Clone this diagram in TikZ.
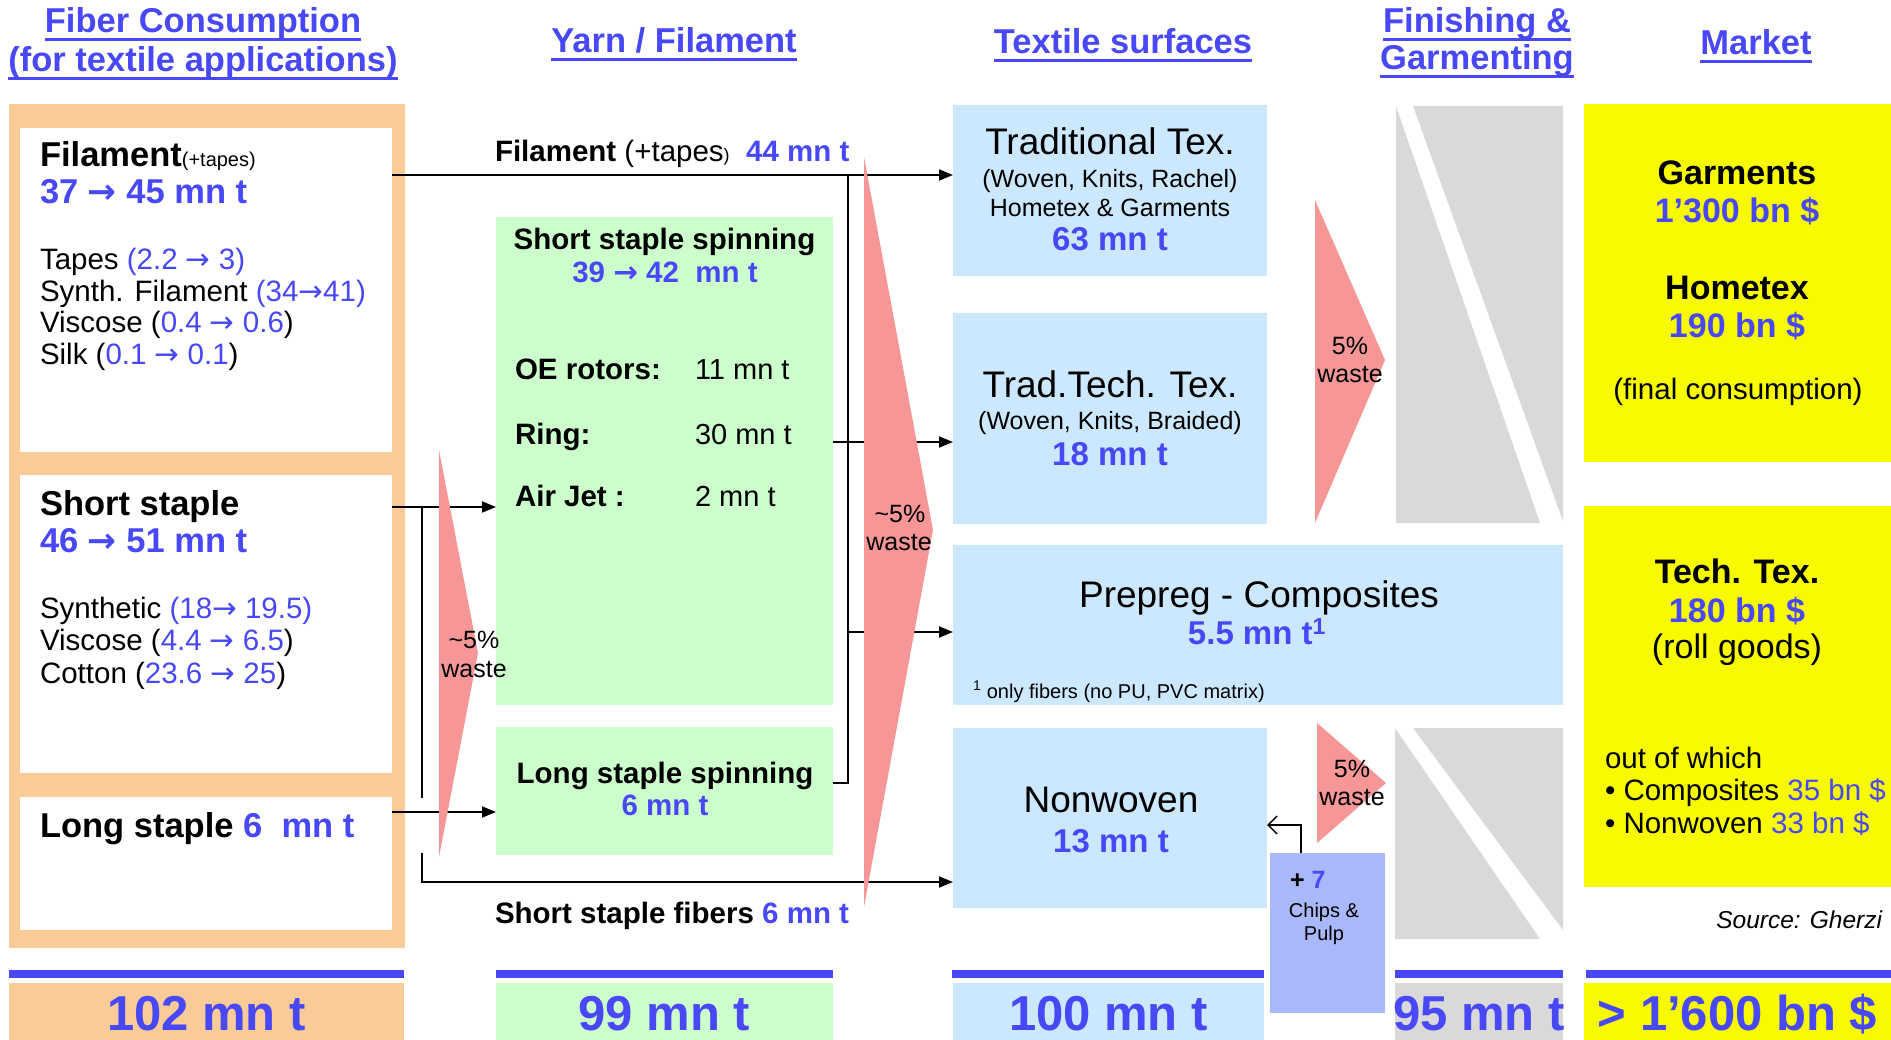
\documentclass[tikz,border=0pt]{standalone}
\usepackage{fontspec}
\setmainfont{Liberation Sans}
\newfontfamily\arrf{DejaVu Sans}
\usetikzlibrary{fit,arrows.meta}
\definecolor{tblue}{RGB}{72,72,248}
\definecolor{orng}{RGB}{248,203,153}
\definecolor{lgreen}{RGB}{204,255,204}
\definecolor{lblue}{RGB}{204,232,255}
\definecolor{pinkw}{RGB}{247,150,150}
\definecolor{greyf}{RGB}{217,217,217}
\definecolor{yel}{RGB}{248,250,0}
\definecolor{chipc}{RGB}{168,184,250}
\newcommand\myfs[1]{\fontsize{#1}{#1}\selectfont}
\newcommand\blu[1]{\textcolor{tblue}{#1}}
\newcommand\rarr{{\arrf →}}
\begin{document}
\begin{tikzpicture}[x=1pt,y=-1pt,
  txt/.style={inner sep=0pt, outer sep=0pt},
  boxf/.style={inner sep=0pt, outer sep=0pt, draw=none},
  conn/.style={line width=1.8pt, draw=black},
  arr/.style={conn, -{Triangle[length=14pt,width=11pt]}},
  hdr/.style={txt, anchor=base, font=\bfseries\myfs{34.5}, text=tblue},
  bigb/.style={txt, anchor=base west, font=\bfseries\myfs{34.5}},
  lst/.style={txt, anchor=base west, font=\myfs{29.5}},
  midb/.style={txt, font=\bfseries\myfs{29.5}},
  midr/.style={txt, anchor=base west, font=\myfs{29}},
  surf/.style={txt, anchor=base, font=\myfs{37}},
  surfs/.style={txt, anchor=base, font=\myfs{25}},
  surfn/.style={txt, anchor=base, font=\bfseries\myfs{33}, text=tblue},
  wst/.style={txt, anchor=base, font=\myfs{25}},
  mkb/.style={txt, anchor=base, font=\bfseries\myfs{34}},
  mkr/.style={txt, anchor=base west, font=\myfs{29.5}},
  totf/.style={txt, anchor=base, font=\bfseries\myfs{49}, text=tblue},
  uline/.style={tblue, line width=2.8pt}
]
\useasboundingbox (0,0) rectangle (1891,1040);

% ---------- headers ----------
\node[hdr] (h1a) at (203,33) {Fiber Consumption~};
\node[hdr] (h1b) at (203,72) {(for textile applications)};
\node[hdr] (h2) at (674,53) {Yarn / Filament};
\node[hdr] (h3) at (1123,54) {Textile surfaces~};
\node[hdr] (h4a) at (1477,33) {Finishing \&};
\node[hdr] (h4b) at (1477,70) {Garmenting};
\node[hdr] (h5) at (1756,55) {Market};
\foreach \n in {h1a,h1b,h2,h3,h4a,h4b,h5}
  \draw[uline] ([yshift=-6.5pt]\n.base west) -- ([yshift=-6.5pt]\n.base east);

% ---------- column 1 ----------
\node[boxf, fill=orng, fit={(9,104)(405,948)}] (ocol) {};
\node[boxf, fill=white, fit={(20,128)(392,452)}] (wfil) {};
\node[boxf, fill=white, fit={(20,475)(392,773)}] (wshort) {};
\node[boxf, fill=white, fit={(20,797)(392,930)}] (wlong) {};

% ---------- column 2 ----------
\node[boxf, fill=lgreen, fit={(496,217)(833,705)}] (gshort) {};
\node[boxf, fill=lgreen, fit={(496,727)(833,855)}] (glong) {};

% ---------- column 3 ----------
\node[boxf, fill=lblue, fit={(953,105)(1267,276)}] (btrad) {};
\node[boxf, fill=lblue, fit={(953,313)(1267,524)}] (btech) {};
\node[boxf, fill=lblue, fit={(953,545)(1563,705)}] (bprep) {};
\node[boxf, fill=lblue, fit={(953,728)(1267,908)}] (bnon) {};
\node[boxf, fill=chipc, fit={(1270,853)(1385,1013)}] (chips) {};

% ---------- column 4 (grey) ----------
\fill[greyf] (1396,106) -- (1396,523) -- (1540,523) -- cycle;
\fill[greyf] (1413,106) -- (1563,106) -- (1563,521) -- cycle;
\fill[greyf] (1395,728) -- (1395,939) -- (1540,939) -- cycle;
\fill[greyf] (1413,728) -- (1563,728) -- (1563,930) -- cycle;

% ---------- column 5 ----------
\node[boxf, fill=yel, fit={(1584,104)(1891,462)}] (ytop) {};
\node[boxf, fill=yel, fit={(1584,506)(1891,887)}] (ybot) {};

% ---------- totals ----------
\fill[tblue] (9,970) rectangle (404,978);
\fill[tblue] (496,970) rectangle (833,978);
\fill[tblue] (952,970) rectangle (1264,978);
\fill[tblue] (1395,970) rectangle (1563,978);
\fill[tblue] (1586,970) rectangle (1891,978);
\node[boxf, fill=orng, fit={(9,983)(404,1040)}] (tot1) {};
\node[boxf, fill=lgreen, fit={(496,983)(833,1040)}] (tot2) {};
\node[boxf, fill=lblue, fit={(953,983)(1264,1040)}] (tot3) {};
\node[boxf, fill=greyf, fit={(1395,983)(1563,1040)}] (tot4) {};
\node[boxf, fill=yel, fit={(1584,983)(1891,1040)}] (tot5) {};
\node[totf] (tot1t) at (206.5,1030) {102 mn t};
\node[totf] (tot2t) at (664.5,1030) {99 mn t};
\node[totf] (tot3t) at (1108.5,1030) {100 mn t};
\node[totf] (tot4t) at (1479,1030) {95 mn t};
\node[totf] (tot5t) at (1737.5,1030) {> 1’600 bn \$};

% ---------- connectors ----------
\coordinate (fily) at (0,175);
\coordinate (colx) at (848,0);
\coordinate (ry) at (0,442);
\coordinate (py) at (0,632);
\coordinate (lsy) at (0,783);
\coordinate (ssy) at (0,507);
\coordinate (lly) at (0,812);
\coordinate (sfy) at (0,882);
\coordinate (vx) at (422,0);
\coordinate (vend) at (422,798);
\coordinate (vstart) at (422,853);
\coordinate (chx) at (1301,0);
\coordinate (chy) at (0,825);

\draw[arr] (wfil.east |- fily) -- (btrad.west |- fily);
\draw[conn] (glong.east |- lsy) -- (colx |- lsy) -- (colx |- fily);
\draw[arr] (gshort.east |- ry) -- (btech.west |- ry);
\draw[arr] (colx |- py) -- (bprep.west |- py);
\draw[arr] (wshort.east |- ssy) -- (gshort.west |- ssy);
\draw[conn] (vx |- ssy) -- (vend);
\draw[arr] (wlong.east |- lly) -- (glong.west |- lly);
\draw[arr] (vstart) -- (vx |- sfy) -- (bnon.west |- sfy);
\draw[conn, line width=1.5pt, -{Straight Barb[length=9pt,width=18pt]}] (chips.north -| chx) -- (chx |- chy) -- (bnon.east |- chy);

% ---------- waste triangles ----------
\fill[pinkw] (439,450) -- (439,857) -- (478,653) -- cycle;
\fill[pinkw] (864,157) -- (864,907) -- (933,530) -- cycle;
\fill[pinkw] (1315,200) -- (1315,523) -- (1385,360) -- cycle;
\fill[pinkw] (1317,723) -- (1317,843) -- (1386,783) -- cycle;
\node[wst] (w1a) at (474,648) {\textasciitilde 5\%};
\node[wst] (w1b) at (474,677) {waste};
\node[wst] (w2a) at (900,522) {\textasciitilde 5\%};
\node[wst] (w2b) at (899,550) {waste};
\node[wst] (w3a) at (1350,355) {5\%};
\node[wst] (w3b) at (1350,383) {waste};
\node[wst] (w4a) at (1352,777) {5\%};
\node[wst] (w4b) at (1352,805) {waste};

% ---------- column 1 texts ----------
\node[bigb] (t1a) at (40,167) {Filament{\mdseries\myfs{20}(+tapes)}};
\node[bigb, text=tblue] (t1b) at (40,204) {37 \rarr{} 45 mn t};
\node[lst] (t1c) at (40,270) {Tapes \blu{(2.2 \rarr{} 3)}};
\node[lst] (t1d) at (40,302) {Synth. Filament \blu{(34\rarr41)}};
\node[lst] (t1e) at (40,333) {Viscose (\blu{0.4 \rarr{} 0.6})};
\node[lst] (t1f) at (40,365) {Silk (\blu{0.1 \rarr{} 0.1})};
\node[bigb] (t1g) at (40,515) {Short staple};
\node[bigb, text=tblue] (t1h) at (40,552) {46 \rarr{} 51 mn t};
\node[lst] (t1i) at (40,618) {Synthetic \blu{(18\rarr{} 19.5)}};
\node[lst] (t1j) at (40,650) {Viscose (\blu{4.4 \rarr{} 6.5})};
\node[lst] (t1k) at (40,683) {Cotton (\blu{23.6 \rarr{} 25})};
\node[bigb] (t1l) at (40,837) {Long staple \blu{6~~mn t}};

% ---------- column 2 texts ----------
\node[midb, anchor=base west] (t2a) at (495,162) {Filament {\mdseries(+tapes{\myfs{18})}}~~\blu{44 mn t}};
\node[midb, anchor=base] (t2b) at (664.5,250) {Short staple spinning};
\node[midb, anchor=base, text=tblue] (t2c) at (665,283) {39 \rarr{} 42~~mn t};
\node[midb, anchor=base west] (t2d) at (515,380) {OE rotors:};
\node[midr] (t2e) at (695,380) {11 mn t};
\node[midb, anchor=base west] (t2f) at (515,445) {Ring:};
\node[midr] (t2g) at (695,445) {30 mn t};
\node[midb, anchor=base west] (t2h) at (515,507) {Air Jet :};
\node[midr] (t2i) at (695,507) {2 mn t};
\node[midb, anchor=base] (t2j) at (665,783) {Long staple spinning};
\node[midb, anchor=base, text=tblue] (t2k) at (665,815) {6 mn t};
\node[midb, anchor=base west] (t2l) at (495,923) {Short staple fibers \blu{6 mn t}};

% ---------- column 3 texts ----------
\node[surf] (t3a) at (1110,155) {Traditional Tex.};
\node[surfs] (t3b) at (1110,188) {(Woven, Knits, Rachel)};
\node[surfs] (t3c) at (1110,217) {Hometex \& Garments};
\node[surfn] (t3d) at (1110,251) {63 mn t};
\node[surf] (t3e) at (1110,398) {Trad.Tech. Tex.};
\node[surfs] (t3f) at (1110,430) {(Woven, Knits, Braided)};
\node[surfn] (t3g) at (1110,465) {18 mn t};
\node[surf] (t3h) at (1259,607) {Prepreg - Composites};
\node[surfn] (t3i) at (1257,644) {5.5 mn t\textsuperscript{1}};
\node[txt, anchor=base west, font=\myfs{20}] (t3j) at (973,698) {\textsuperscript{1} only fibers (no PU, PVC matrix)};
\node[surf] (t3k) at (1111,812) {Nonwoven};
\node[surfn] (t3l) at (1111,852) {13 mn t};
\node[txt, anchor=base west, font=\bfseries\myfs{25}] (t3m) at (1290,888) {+ \blu{7}};
\node[txt, anchor=base, font=\myfs{20}] (t3n) at (1324,917) {Chips \&};
\node[txt, anchor=base, font=\myfs{20}] (t3o) at (1324,940) {Pulp};

% ---------- column 5 texts ----------
\node[mkb] (t5a) at (1737,185) {Garments};
\node[mkb, text=tblue] (t5b) at (1737,223) {1’300 bn \$};
\node[mkb] (t5c) at (1737,300) {Hometex};
\node[mkb, text=tblue] (t5d) at (1737,338) {190 bn \$};
\node[txt, anchor=base, font=\myfs{29.5}] (t5e) at (1738,400) {(final consumption)};
\node[mkb] (t5f) at (1737,583) {Tech. Tex.};
\node[mkb, text=tblue] (t5g) at (1737,622) {180 bn \$};
\node[txt, anchor=base, font=\myfs{34}] (t5h) at (1737,658) {(roll goods)};
\node[mkr] (t5i) at (1605,768) {out of which};
\node[mkr] (t5j) at (1605,800) {• Composites \blu{35 bn \$}};
\node[mkr] (t5k) at (1605,833) {• Nonwoven \blu{33 bn \$}};
\node[txt, anchor=base east, font=\itshape\myfs{24.5}] (t5l) at (1882,928) {Source: Gherzi};
\end{tikzpicture}
\end{document}
